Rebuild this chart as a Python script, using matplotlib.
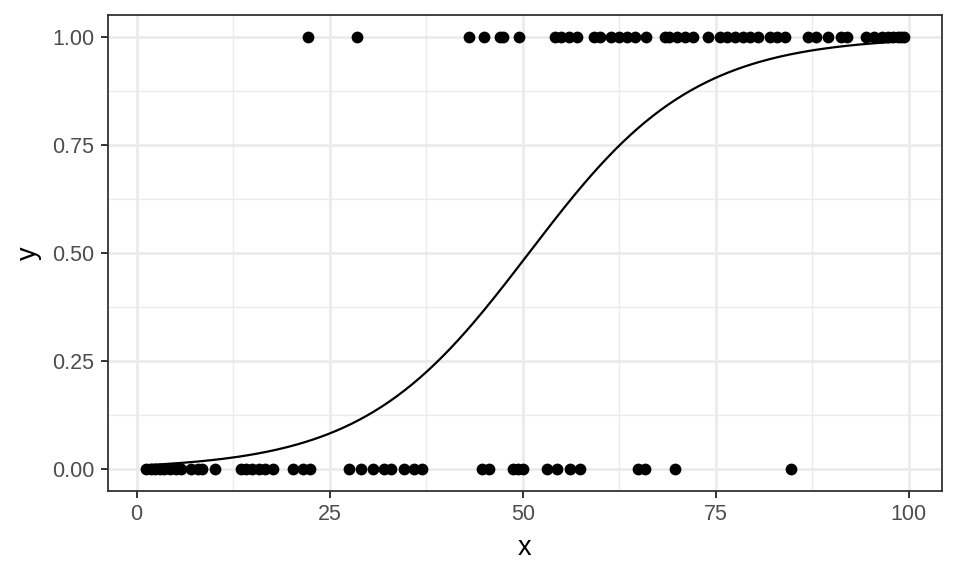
import numpy as np
import matplotlib
matplotlib.use("Agg")
import matplotlib.pyplot as plt

plt.rcParams["font.family"] = ["Liberation Sans", "DejaVu Sans"]

x_zero = [1.2, 1.8, 2.4, 3.0, 3.6, 4.3, 5.1, 5.7, 7.1, 7.9, 8.5, 10.2,
          13.5, 14.2, 15.0, 15.8, 16.6, 17.6, 20.2, 21.6, 22.4,
          27.5, 29.0, 30.6, 32.1, 32.9, 34.6, 35.9, 37.0,
          44.7, 45.7, 48.8, 49.4, 50.1, 53.2, 54.5, 56.1, 57.4,
          64.9, 65.8, 69.7, 84.8]
x_one = [22.2, 28.5, 43.0, 45.0, 47.0, 47.5, 49.5, 54.2, 55.0, 56.0, 57.0,
         59.2, 60.0, 61.5, 62.5, 63.5, 64.5, 66.0, 68.4, 69.0, 70.0, 71.0,
         72.0, 74.0, 75.5, 76.5, 77.5, 78.6, 79.5, 80.5, 82.0, 83.0, 84.0,
         87.0, 88.0, 89.5, 91.2, 92.0, 94.5, 95.5, 96.5, 97.3, 97.9, 98.6,
         99.0, 99.4]

# fitted logistic curve, coefficients
intercept = -4.73
slope = 0.0931

x = np.array(x_zero + x_one)
y = np.array([0] * len(x_zero) + [1] * len(x_one), dtype=float)

xs = np.linspace(x.min(), x.max(), 300)
ys = 1 / (1 + np.exp(-(intercept + slope * xs)))

fig = plt.figure(figsize=(9.6, 5.76), dpi=100)
ax = fig.add_axes([108 / 960, 1 - 491 / 576, 834 / 960, 476 / 576])

ax.scatter(x, y, s=72, color="black", zorder=3, linewidths=0)
ax.plot(xs, ys, color="black", lw=1.6, zorder=4)

# ggplot-style 5% expansion
span = x.max() - x.min()
ax.set_xlim(x.min() - 0.05 * span, x.max() + 0.05 * span)
ax.set_ylim(-0.05, 1.05)
ax.set_xticks([0, 25, 50, 75, 100])
ax.set_yticks([0, 0.25, 0.5, 0.75, 1.0])
ax.set_yticklabels(["0.00", "0.25", "0.50", "0.75", "1.00"])
ax.set_xticks([12.5, 37.5, 62.5, 87.5], minor=True)
ax.set_yticks([0.125, 0.375, 0.625, 0.875], minor=True)

ax.grid(which="major", color="#EBEBEB", lw=2.0, zorder=0)
ax.grid(which="minor", color="#EBEBEB", lw=1.0, zorder=0)
ax.set_axisbelow(True)

for s in ax.spines.values():
    s.set_color("#333333")
    s.set_linewidth(1.3)

ax.tick_params(which="major", length=5.2, width=1.4, color="#333333",
               labelsize=15.5, labelcolor="#4D4D4D", pad=4.5)
ax.tick_params(which="minor", length=0)

ax.set_xlabel("x", fontsize=19.5, labelpad=7)
ax.set_ylabel("y", fontsize=19.5, labelpad=7)

fig.savefig("out.png", dpi=100)
